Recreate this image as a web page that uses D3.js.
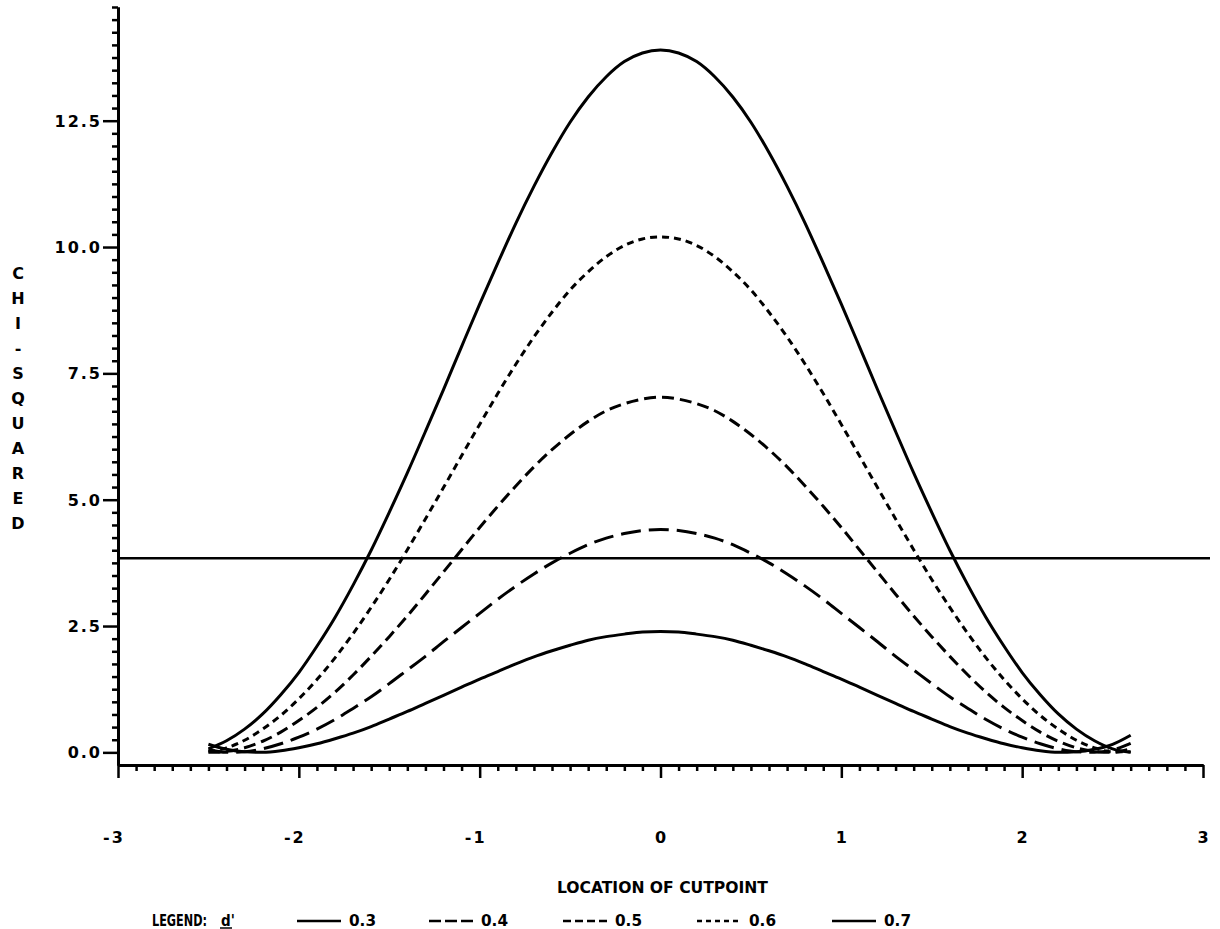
<!DOCTYPE html>
<html>
<head>
<meta charset="utf-8">
<script src="https://cdn.jsdelivr.net/npm/d3@7"></script>
<style>
  body { margin: 0; background: #fff; }
  svg { display: block; }
  .tick-label { font-family: "DejaVu Sans", sans-serif; font-weight: bold; font-size: 16px; letter-spacing: 2px; fill: #000; }
  .narrow { font-family: "DejaVu Sans Condensed", "Liberation Sans Narrow", sans-serif; font-weight: bold; font-size: 15px; fill: #000; }
</style>
</head>
<body>
<div id="chart"></div>
<script>
// cutpoint locations (x) and chi-squared values per d'
const cutpoints = [-2.5, -2.4, -2.3, -2.2, -2.1, -2.0, -1.9, -1.8, -1.7, -1.6, -1.5, -1.4, -1.3, -1.2, -1.1,
    -1.0, -0.9, -0.8, -0.7, -0.6, -0.5, -0.4, -0.3, -0.2, -0.1, 0.0, 0.1, 0.2, 0.3, 0.4, 0.5, 0.6, 0.7,
    0.8, 0.9, 1.0, 1.1, 1.2, 1.3, 1.4, 1.5, 1.6, 1.7, 1.8, 1.9, 2.0, 2.1, 2.2, 2.3, 2.4, 2.5, 2.6];

const chi03 = [0.16, 0.06, 0.01, 0.00, 0.03, 0.09, 0.17, 0.27, 0.38, 0.51, 0.66, 0.81, 0.97, 1.13, 1.29,
    1.45, 1.60, 1.75, 1.89, 2.01, 2.12, 2.22, 2.29, 2.34, 2.38, 2.39, 2.38, 2.34, 2.29, 2.22, 2.12, 2.01, 1.89,
    1.75, 1.60, 1.45, 1.29, 1.13, 0.97, 0.81, 0.66, 0.51, 0.38, 0.27, 0.17, 0.09, 0.03, 0.00, 0.01, 0.06, 0.16, 0.34];
const chi04 = [0.05, 0.00, 0.01, 0.07, 0.17, 0.30, 0.46, 0.65, 0.87, 1.10, 1.36, 1.63, 1.90, 2.19, 2.47,
    2.75, 3.03, 3.29, 3.53, 3.75, 3.94, 4.11, 4.24, 4.33, 4.39, 4.41, 4.39, 4.33, 4.24, 4.11, 3.94, 3.75, 3.53,
    3.29, 3.03, 2.75, 2.47, 2.19, 1.90, 1.63, 1.36, 1.10, 0.87, 0.65, 0.46, 0.30, 0.17, 0.07, 0.01, 0.00, 0.05, 0.18];
const chi05 = [0.00, 0.02, 0.09, 0.22, 0.40, 0.63, 0.89, 1.19, 1.53, 1.90, 2.29, 2.70, 3.13, 3.57, 4.01,
    4.45, 4.87, 5.27, 5.65, 5.99, 6.29, 6.55, 6.76, 6.90, 6.99, 7.03, 6.99, 6.90, 6.76, 6.55, 6.29, 5.99, 5.65,
    5.27, 4.87, 4.45, 4.01, 3.57, 3.13, 2.70, 2.29, 1.90, 1.53, 1.19, 0.89, 0.63, 0.40, 0.22, 0.09, 0.02, 0.00, 0.07];
const chi06 = [0.01, 0.09, 0.24, 0.46, 0.73, 1.06, 1.44, 1.87, 2.35, 2.87, 3.42, 4.01, 4.62, 5.24, 5.87,
    6.49, 7.10, 7.68, 8.22, 8.71, 9.15, 9.51, 9.81, 10.03, 10.16, 10.20, 10.16, 10.03, 9.81, 9.51, 9.15, 8.71, 8.22,
    7.68, 7.10, 6.49, 5.87, 5.24, 4.62, 4.01, 3.42, 2.87, 2.35, 1.87, 1.44, 1.06, 0.73, 0.46, 0.24, 0.09, 0.01, 0.01];
const chi07 = [0.07, 0.23, 0.46, 0.76, 1.14, 1.58, 2.10, 2.67, 3.31, 4.00, 4.75, 5.53, 6.35, 7.18, 8.03,
    8.87, 9.68, 10.47, 11.20, 11.87, 12.47, 12.97, 13.37, 13.67, 13.84, 13.90, 13.84, 13.67, 13.37, 12.97, 12.47, 11.87, 11.20,
    10.47, 9.68, 8.87, 8.03, 7.18, 6.35, 5.53, 4.75, 4.00, 3.31, 2.67, 2.10, 1.58, 1.14, 0.76, 0.46, 0.23, 0.07, 0.00];

const seriesNames = ["0.3", "0.4", "0.5", "0.6", "0.7"];
const seriesValues = [chi03, chi04, chi05, chi06, chi07];
const criticalValue = 3.84;

const xTickLabels = ["-3", "-2", "-1", "0", "1", "2", "3"];
const yTickLabels = ["0.0", "2.5", "5.0", "7.5", "10.0", "12.5"];
const yTitle = "CHI-SQUARED";
const xTitle = "LOCATION OF CUTPOINT";

const dashes = ["none", "20,8", "12,6", "7,5", "none"];

const width = 1220, height = 929;
const svg = d3.select("#chart").append("svg")
    .attr("width", width)
    .attr("height", height);

svg.append("rect").attr("width", width).attr("height", height).attr("fill", "#fff");

const xScale = d3.scaleLinear().domain([-3, 3]).range([118, 1203]);
const yScale = d3.scaleLinear().domain([-0.25, 14.75]).range([765, 7]);

// x axis: minor ticks every 0.1, majors at integers
const xMinor = d3.range(-30, 31).filter(i => i % 10 !== 0).map(i => i / 10);
const xMajor = xTickLabels.map(Number);

const xAxisG = svg.append("g").attr("transform", "translate(0," + yScale(-0.25) + ")");
xAxisG.append("g")
    .call(d3.axisBottom(xScale).tickValues(xMinor).tickSize(6).tickSizeOuter(0).tickFormat(""));
xAxisG.append("g")
    .call(d3.axisBottom(xScale).tickValues(xMajor).tickSize(13).tickSizeOuter(0).tickFormat(""));

// y axis: minor ticks every 0.25, majors every 2.5
const yMajor = yTickLabels.map(Number);
const yMinor = d3.range(0, 60).map(i => i / 4).filter(v => v % 2.5 !== 0);

const yAxisG = svg.append("g").attr("transform", "translate(" + xScale(-3) + ",0)");
yAxisG.append("g")
    .call(d3.axisLeft(yScale).tickValues(yMinor).tickSize(6).tickSizeOuter(0).tickFormat(""));
yAxisG.append("g")
    .call(d3.axisLeft(yScale).tickValues(yMajor).tickSize(15).tickSizeOuter(0).tickFormat(""));

svg.selectAll(".domain").attr("stroke", "#000").attr("stroke-width", 3);
svg.selectAll(".tick line").attr("stroke", "#000").attr("stroke-width", 2.5);

// tick labels
svg.selectAll(".xlab")
    .data(xTickLabels)
    .enter().append("text")
    .attr("class", "tick-label")
    .attr("x", d => xScale(+d) + (d.startsWith("-") ? -4 : 1))
    .attr("y", 843)
    .attr("text-anchor", "middle")
    .text(d => d);

svg.selectAll(".ylab")
    .data(yTickLabels)
    .enter().append("text")
    .attr("class", "tick-label")
    .attr("x", 102)
    .attr("y", d => yScale(+d) + 6)
    .attr("text-anchor", "end")
    .text(d => d);

// vertical stacked y title
svg.selectAll(".ytitle")
    .data(yTitle.split(""))
    .enter().append("text")
    .attr("class", "tick-label")
    .style("letter-spacing", "0px")
    .attr("x", 18)
    .attr("y", (d, i) => 279 + i * 25)
    .attr("text-anchor", "middle")
    .text(d => d);

svg.append("text")
    .attr("class", "narrow")
    .style("font-size", "16px")
    .attr("x", 557)
    .attr("y", 893)
    .attr("textLength", 211)
    .attr("lengthAdjust", "spacingAndGlyphs")
    .text(xTitle);

// critical value line
svg.append("line")
    .attr("x1", xScale(-3))
    .attr("x2", xScale(3) + 7)
    .attr("y1", yScale(criticalValue))
    .attr("y2", yScale(criticalValue))
    .attr("stroke", "#000")
    .attr("stroke-width", 2.5);

// curves
const line = d3.line()
    .x((d, i) => xScale(cutpoints[i]))
    .y(d => yScale(d))
    .curve(d3.curveMonotoneX);

svg.selectAll(".curve")
    .data(seriesValues)
    .enter().append("path")
    .attr("class", "curve")
    .attr("d", d => line(d))
    .attr("fill", "none")
    .attr("stroke", "#000")
    .attr("stroke-width", 3)
    .attr("stroke-dasharray", (d, i) => dashes[i]);

// legend
const legendY = 921;
svg.append("text")
    .attr("class", "narrow")
    .attr("x", 152)
    .attr("y", legendY + 5)
    .attr("textLength", 55)
    .attr("lengthAdjust", "spacingAndGlyphs")
    .text("LEGEND:");
svg.append("text")
    .attr("class", "narrow")
    .attr("x", 221)
    .attr("y", legendY + 5)
    .text("d'");
svg.append("line")
    .attr("x1", 220).attr("x2", 232)
    .attr("y1", legendY + 7).attr("y2", legendY + 7)
    .attr("stroke", "#000").attr("stroke-width", 1.5);

const legendX = [297, 429, 563, 697, 832];
const legend = svg.selectAll(".legend-item")
    .data(seriesNames)
    .enter().append("g")
    .attr("class", "legend-item")
    .attr("transform", (d, i) => "translate(" + legendX[i] + "," + legendY + ")");

legend.append("line")
    .attr("x1", 0).attr("x2", 44)
    .attr("y1", 0).attr("y2", 0)
    .attr("stroke", "#000")
    .attr("stroke-width", 2.6)
    .attr("stroke-dasharray", (d, i) => i === 1 ? "12,4" : i === 2 ? "8,4" : i === 3 ? "5,4" : "none");

legend.append("text")
    .attr("class", "narrow")
    .attr("x", 52)
    .attr("y", 5)
    .attr("textLength", 27)
    .attr("lengthAdjust", "spacingAndGlyphs")
    .text(d => d);
</script>
</body>
</html>
